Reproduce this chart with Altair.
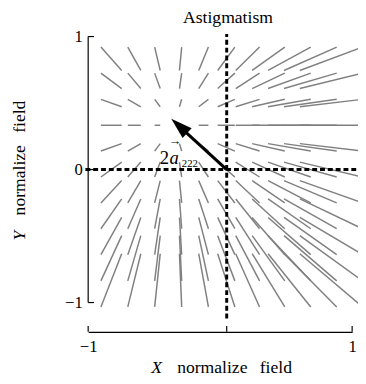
import altair as alt
import pandas as pd

# ---- data ----
grid = [-0.833, -0.667, -0.5, -0.333, -0.167, 0.0, 0.167, 0.333, 0.5, 0.667, 0.833]
# signed half extent of each field segment, per column (x) and per row (y)
col_half = [-0.075, -0.047, -0.020, 0.008, 0.035, 0.065, 0.095, 0.130, 0.170, 0.210, 0.250]
row_half = [-0.200, -0.170, -0.140, -0.112, -0.084, -0.056, -0.028, 0.000, 0.028, 0.058, 0.088]
tick_values = [-1, 0, 1]
# 2*a222 arrow: shaft end and head centre (data units)
arrow_shaft = {"x": [0.0], "y": [0.0], "x2": [-0.30], "y2": [0.285]}
arrow_head = {"x": [-0.343], "y": [0.328]}
# dashed reference axes through the origin
dash_lines = {"x": [-1.02, 0.0], "x2": [1.04, 0.0], "y": [0.0, -1.12], "y2": [0.0, 1.02]}

SERIF = "Liberation Serif"

rows = []
for gy, hy in zip(grid, row_half):
    for gx, hx in zip(grid, col_half):
        rows.append({"x": gx - hx, "x2": gx + hx, "y": gy - hy, "y2": gy + hy})
seg = pd.DataFrame(rows)

xscale = alt.Scale(domain=[-1, 0, 1], range=[0, 141.7, 270], nice=False, zero=False)
yscale = alt.Scale(domain=[-1.22, 1], nice=False, zero=False)

xaxis = alt.Axis(values=tick_values, format="d", title=None, grid=False, ticks=False,
                 labelFlush=False, labelFont=SERIF, labelFontSize=17, labelColor="black",
                 labelPadding=7, domainColor="black", domainWidth=1.2)
yaxis = alt.Axis(values=tick_values, format="d", title=None, grid=False, ticks=False,
                 domain=False, labelFont=SERIF, labelFontSize=17, labelColor="black",
                 labelPadding=6)

X = lambda f: alt.X(f, scale=xscale, axis=xaxis)
Y = lambda f: alt.Y(f, scale=yscale, axis=yaxis)

segments = alt.Chart(seg).mark_rule(color="#808080", strokeWidth=1.5).encode(
    x=X("x:Q"), x2="x2:Q", y=Y("y:Q"), y2="y2:Q",
)

dashes = alt.Chart(pd.DataFrame(dash_lines)).mark_rule(
    color="black", strokeWidth=3, strokeDash=[5, 3]
).encode(x=X("x:Q"), x2="x2:Q", y=Y("y:Q"), y2="y2:Q")

shaft = alt.Chart(pd.DataFrame(arrow_shaft)).mark_rule(color="black", strokeWidth=3.2).encode(
    x=X("x:Q"), x2="x2:Q", y=Y("y:Q"), y2="y2:Q",
)

head = alt.Chart(pd.DataFrame(arrow_head)).mark_point(
    shape="M0,-1L0.62,1L-0.62,1Z", size=484, angle=312.5,
    filled=True, color="black", opacity=1
).encode(x=X("x:Q"), y=Y("y:Q"))

yline = alt.Chart(pd.DataFrame({"x": [-1], "y": [-1], "y2": [1]})).mark_rule(
    color="black", strokeWidth=1.2
).encode(x=X("x:Q"), y=Y("y:Q"), y2="y2:Q")

tk = pd.DataFrame({"v": tick_values})
yticks = alt.Chart(tk).mark_rule(color="black", strokeWidth=1.2).encode(
    x=alt.value(0), x2=alt.value(6), y=Y("v:Q"),
)
xticks = alt.Chart(tk).mark_rule(color="black", strokeWidth=1.2).encode(
    x=X("v:Q"), y=alt.value(302), y2=alt.value(296),
)


def label(txt, x, y, size, angle=0, style="normal", align="center", baseline="middle"):
    return alt.Chart(pd.DataFrame({"t": [txt]})).mark_text(
        font=SERIF, fontSize=size, fontStyle=style, color="black",
        align=align, baseline=baseline, angle=angle
    ).encode(x=alt.value(x), y=alt.value(y), text="t:N")


texts = [
    label("Astigmatism", 143, -19, 18),
    label("X", 70, 339, 18, style="italic"),
    label("normalize", 127, 339, 18),
    label("field", 192, 339, 18),
    label("Y", -70, 203.5, 18, angle=270, style="italic"),
    label("normalize", -70, 147, 18, angle=270),
    label("field", -70, 82, 18, angle=270),
    label("2", 78, 124, 19),
    label("a", 88, 124, 19, style="italic"),
    label("222", 104, 130, 11),
    label("\u2192", 89, 107, 13),
]

chart = alt.layer(segments, dashes, shaft, head, yline, yticks, xticks, *texts).properties(
    width=270, height=302,
    padding={"left": 82, "top": 25, "right": 6, "bottom": 41},
    autosize=alt.AutoSizeParams(type="none"),
    background="white",
).configure_view(stroke=None)

chart.save("out.html", embed_options={"renderer": "svg", "actions": False})
